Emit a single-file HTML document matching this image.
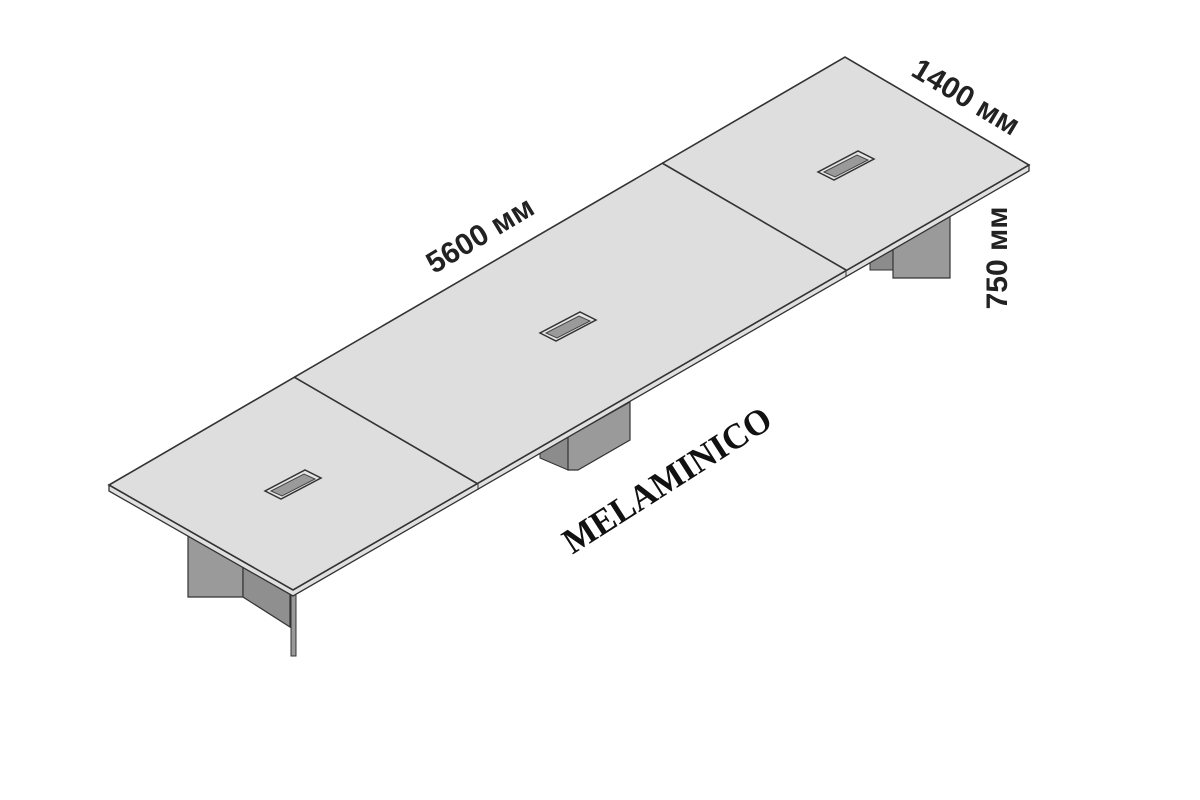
<!DOCTYPE html>
<html><head><meta charset="utf-8"><style>html,body{margin:0;padding:0;background:#fff}svg{display:block}</style></head>
<body>
<svg width="1200" height="800" viewBox="0 0 1200 800" xmlns="http://www.w3.org/2000/svg">
<defs>
<g id="grom">
<polygon points="-28,7 -12,15 28,-6 12,-14" fill="#e6e6e6" stroke="#333" stroke-width="1.5"/>
<polygon points="-22,7 -11,12 22,-5 11,-10" fill="#9a9a9a" stroke="#444" stroke-width="1"/>
</g>
</defs>
<!-- right leg -->
<polygon points="870,255 893,243 893,270 870,270" fill="#8c8c8c" stroke="#333" stroke-width="1"/>
<polygon points="893,240 950,212 950,278 893,278" fill="#9a9a9a" stroke="#333" stroke-width="1.2"/>
<!-- middle leg -->
<polygon points="540,452 568,437 568,470 540,458" fill="#8c8c8c" stroke="#333" stroke-width="1"/>
<polygon points="568,437 630,402 630,440 578,470 568,470" fill="#9a9a9a" stroke="#333" stroke-width="1.2"/>
<!-- left leg -->
<polygon points="188,528 243,558 243,597 188,597" fill="#9a9a9a" stroke="#333" stroke-width="1.2"/>
<polygon points="243,560 290,587 290,627 243,597" fill="#8f8f8f" stroke="#333" stroke-width="1.2"/>
<rect x="291" y="594" width="5" height="62" fill="#999" stroke="#333" stroke-width="1"/>
<!-- table top thickness -->
<polygon points="109,485 293,590 1029,165 1029,171 293,596 109,491" fill="#e0e0e0" stroke="#333" stroke-width="1.3"/>
<!-- table top -->
<polygon points="109,485 845,57 1029,165 293,590" fill="#dedede" stroke="#333" stroke-width="1.6"/>
<line x1="294" y1="377" x2="478" y2="484" stroke="#333" stroke-width="1.6"/>
<line x1="662" y1="163" x2="846" y2="270" stroke="#333" stroke-width="1.6"/>
<line x1="478" y1="484" x2="478" y2="490" stroke="#333" stroke-width="1"/>
<line x1="846" y1="270" x2="846" y2="276" stroke="#333" stroke-width="1"/>
<use href="#grom" x="293" y="484"/>
<use href="#grom" x="568" y="326"/>
<use href="#grom" x="846" y="165"/>
<!-- labels -->
<text x="480" y="245" font-family="Liberation Sans, sans-serif" font-size="30" font-weight="bold" fill="#222" text-anchor="middle" transform="rotate(-31 480 235)">5600 мм</text>
<text x="966" y="107" font-family="Liberation Sans, sans-serif" font-size="30" font-weight="bold" fill="#222" text-anchor="middle" transform="rotate(31 966 97)">1400 мм</text>
<text x="997" y="268" font-family="Liberation Sans, sans-serif" font-size="30" font-weight="bold" fill="#222" text-anchor="middle" transform="rotate(-90 997 258)">750 мм</text>
<text x="667" y="492" font-family="Liberation Serif, serif" font-size="36" font-weight="bold" fill="#111" text-anchor="middle" textLength="240" lengthAdjust="spacingAndGlyphs" transform="rotate(-32.6 667 480)">MELAMINICO</text>
</svg>
</body></html>
